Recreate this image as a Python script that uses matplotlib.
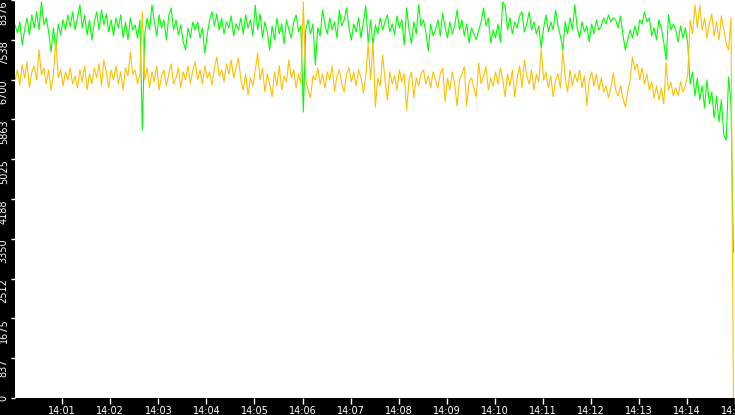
import numpy as np
import pandas as pd
import matplotlib
matplotlib.use("Agg")
import matplotlib.pyplot as plt
import matplotlib.dates as mdates

# samples every 3 s starting 14:00:01
t_start = "2024-01-01 14:00:01"
t_step = "3s"

green = [
    # 14:00:01
    7852, 7683, 7915, 7431, 7746, 7999, 7641, 8062, 7789, 8125, 7746, 8336, 7852,
    7999, 7704, 7283, 7789, 7325, 7873, 7641, 7957, 7746, 8062, 7810, 8125,
    # 14:01:16
    7746, 7999, 8273, 7789, 8062, 7641, 7957, 7536, 7915, 8125, 7746, 8168, 7852,
    8083, 7704, 7957, 7620, 7999, 7789, 8062, 7578, 7915, 7536, 7999, 7746,
    # 14:02:31
    7852, 7578, 7957, 5641, 7641, 7999, 7746, 8273, 7915, 7620, 8062, 7789, 7957,
    7536, 8041, 8210, 7746, 7957, 7641, 7852, 7494, 7325, 7789, 7578, 7915,
    # 14:03:46
    7746, 7915, 7578, 7789, 7262, 7641, 7957, 8125, 7831, 8083, 7746, 7999, 7662,
    7915, 7789, 8041, 7620, 7873, 7746, 7999, 7662, 8062, 7789, 7957, 7620,
    # 14:05:01
    8273, 7746, 8083, 7578, 7915, 7704, 7325, 7831, 7536, 7999, 7662, 7873, 7452,
    7957, 7746, 7578, 7915, 8062, 7704, 7831, 6020, 7746, 7957, 7662, 7873,
    # 14:06:16
    7010, 7789, 7620, 8168, 7852, 7662, 7999, 7746, 7915, 7578, 8168, 7831, 7957,
    8210, 7789, 7536, 7873, 7704, 7999, 7578, 7915, 8252, 7473, 7957, 7431,
    # 14:07:31
    7852, 7662, 7999, 7746, 7915, 8062, 7704, 7873, 7641, 8041, 7789, 7957, 7431,
    8210, 7746, 7452, 7915, 7662, 8273, 7831, 7957, 7704, 7304, 7873, 7620,
    # 14:08:46
    7746, 7957, 7620, 8104, 7789, 7578, 7915, 7662, 7831, 8168, 7746, 7957, 7620,
    7873, 7473, 7789, 7662, 7536, 7746, 7915, 8210, 7831, 7999, 7473, 7746,
    # 14:10:01
    7578, 7873, 7494, 8336, 8252, 7746, 7999, 7662, 7915, 7789, 8041, 8125, 7704,
    7873, 8125, 7746, 7915, 7662, 7831, 7368, 7789, 8062, 7704, 7915, 7746,
    # 14:11:16
    8168, 7831, 7620, 7325, 7915, 7662, 7999, 7746, 8273, 7789, 7578, 7915, 7704,
    7831, 7494, 7873, 7662, 7957, 7746, 7831, 7999, 7873, 8062, 7915, 7999,
    # 14:12:31
    7957, 7789, 8041, 7662, 7325, 7536, 7746, 7578, 7831, 7620, 7957, 7873, 8125,
    7915, 7999, 7620, 7789, 7536, 7957, 7789, 7494, 7115, 8062, 7746, 7873,
    # 14:13:46
    7746, 7494, 7831, 7578, 7789, 7452, 6610, 6862, 6357, 6736, 6273, 6568, 6104,
    6694, 6189, 6441, 5894, 6357, 5810, 6273, 5536, 5431, 6757, 6189, 3070,
]

yellow = [
    # 14:00:01
    6694, 6904, 6589, 7010, 6736, 7073, 6526, 6862, 6989, 6694, 7325, 6799, 6947,
    6610, 6904, 6483, 6820, 7536, 6736, 6904, 6568, 6862, 6694, 6947, 6610,
    # 14:01:16
    6778, 6526, 6904, 6652, 6989, 6483, 6820, 6610, 6947, 6736, 7031, 6568, 7115,
    6862, 6526, 6904, 6694, 6989, 6610, 6862, 6483, 6947, 6778, 7283, 6820,
    # 14:02:31
    6904, 6610, 6820, 8125, 6694, 6947, 6526, 6862, 6652, 6989, 6483, 6778, 6904,
    6568, 6820, 7031, 6610, 6736, 6947, 6526, 6862, 6694, 6989, 6610, 6904,
    # 14:03:46
    7073, 6694, 6904, 6610, 6989, 6736, 6862, 6589, 6947, 7178, 6778, 6904, 6652,
    7031, 6820, 7115, 6736, 6947, 7157, 6694, 6483, 6820, 6378, 6736, 6568,
    # 14:05:01
    6904, 7262, 6694, 6947, 6441, 6820, 6610, 6336, 6862, 6568, 6989, 6483, 6778,
    6652, 7115, 6736, 6904, 6526, 6820, 6610, 8336, 6694, 6483, 6315, 6778,
    # 14:06:16
    6694, 6947, 6610, 6820, 6526, 6862, 6694, 6989, 6441, 6778, 6904, 6610, 6441,
    6820, 6947, 6652, 6862, 6568, 6904, 6736, 6420, 6778, 7452, 6694, 7494,
    # 14:07:31
    6125, 6736, 6568, 7220, 6694, 6273, 6862, 6610, 6778, 6483, 6904, 6652, 6820,
    6062, 6694, 6862, 6315, 6736, 6568, 6820, 6904, 6610, 6778, 6526, 6862,
    # 14:08:46
    6694, 6526, 6820, 6947, 6231, 6736, 6483, 6862, 6610, 6146, 6694, 6820, 6968,
    6146, 6652, 6736, 6526, 6336, 7052, 6610, 6778, 6968, 6483, 6736, 6568,
    # 14:10:01
    6862, 6610, 6947, 6694, 6336, 6820, 6568, 6904, 6336, 6736, 6989, 6526, 7115,
    6778, 6610, 6904, 6483, 6820, 6652, 7346, 6694, 6862, 6526, 6778, 6336,
    # 14:11:16
    6694, 6820, 6526, 7304, 6736, 6441, 6904, 6568, 6820, 6652, 6904, 6526, 6778,
    6146, 6694, 6862, 6568, 6820, 6483, 6736, 6441, 6568, 6315, 6526, 6841,
    # 14:12:31
    6483, 6357, 6568, 6315, 6125, 6441, 6694, 7178, 6904, 7031, 6694, 6947, 6610,
    6820, 6483, 6652, 6315, 6568, 6273, 6526, 6189, 7052, 6483, 6652, 6357,
    # 14:13:46
    6526, 6357, 6652, 6441, 6568, 6799, 7957, 7662, 8273, 7789, 8273, 7746, 7999,
    7578, 7873, 8083, 7620, 7915, 7536, 8041, 7746, 7452, 7325, 7999, 0,
]

ytick_values = [0, 837.6, 1675.2, 2512.8, 3350.4, 4188, 5025.6, 5863.2, 6700.8, 7538.4, 8376]
ytick_labels = ["0", "837", "1675", "2512", "3350", "4188", "5025", "5863", "6700", "7538", "8376"]

times = pd.date_range(t_start, periods=len(green), freq=t_step)

fig = plt.figure(figsize=(7.35, 4.15), dpi=100, facecolor="black")
ax = fig.add_axes([15 / 735, 17 / 415, 720 / 735, 398 / 415])
ax.set_facecolor("white")

ax.plot(times, green, color="#00ff00", lw=0.8)
ax.plot(times, yellow, color="#ffc000", lw=0.8)

ax.set_xlim(pd.Timestamp("2024-01-01 14:00:01"), pd.Timestamp("2024-01-01 14:15:00"))
ax.set_ylim(0, 8376)

for s in ax.spines.values():
    s.set_visible(False)

ax.xaxis.set_major_locator(mdates.MinuteLocator())
ax.xaxis.set_major_formatter(mdates.DateFormatter("%H:%M"))
ax.tick_params(axis="x", colors="white", direction="out", length=4, width=1,
               pad=1.5, labelsize=7)

ax.set_yticks(ytick_values)
ax.set_yticklabels(ytick_labels, rotation=90)
ax.tick_params(axis="y", colors="white", direction="out", length=3, width=1,
               pad=1.5, labelsize=7)
for lab in ax.get_yticklabels():
    lab.set_va("center" if lab.get_text() == "0" else "top")

fig.savefig("out.png", dpi=100, facecolor="black")
